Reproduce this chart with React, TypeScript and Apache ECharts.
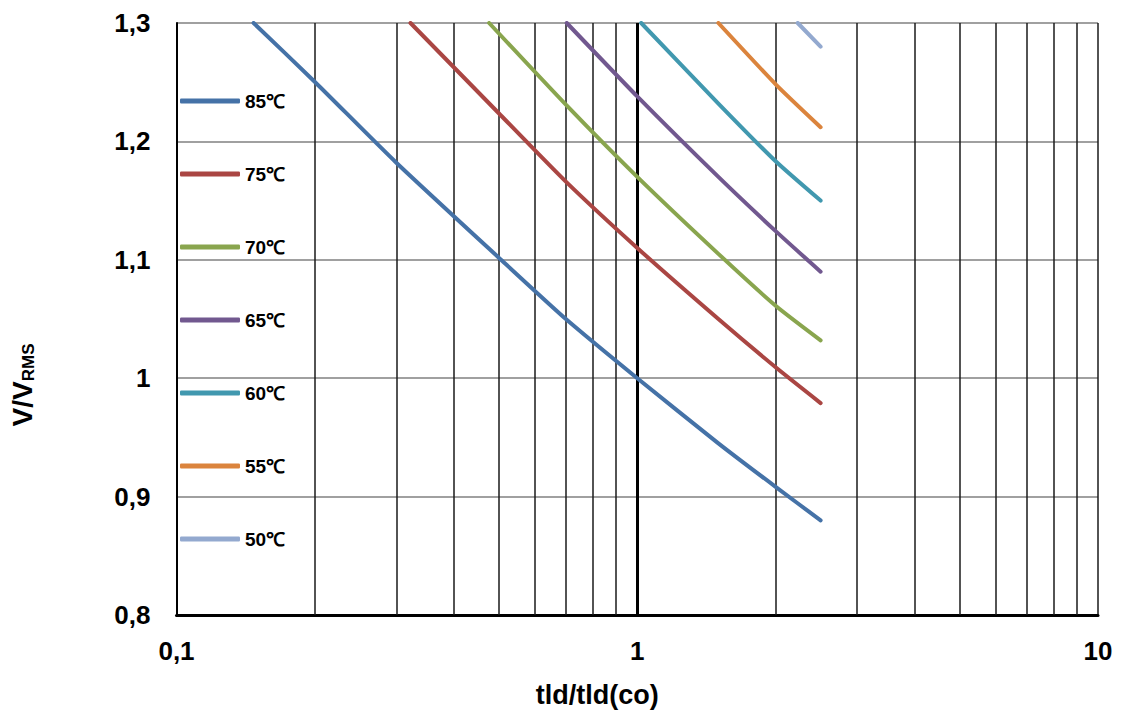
import React, { useEffect, useRef } from "react";
import * as echarts from "echarts";

const seriesNames = ["85℃", "75℃", "70℃", "65℃", "60℃", "55℃", "50℃"];
const seriesColors = ["#4572A7", "#AA4643", "#89A54E", "#71588F", "#4198AF", "#DB843D", "#93A9CF"];

const curve85: [number, number][] = [[0.147, 1.3], [0.2, 1.25], [0.3, 1.182], [0.5, 1.102], [0.7, 1.05], [1, 1.0], [1.5, 0.945], [2, 0.908], [2.5, 0.88]];
const curve75: [number, number][] = [[0.322, 1.3], [0.5, 1.224], [0.7, 1.166], [1, 1.11], [1.5, 1.05], [2, 1.009], [2.5, 0.979]];
const curve70: [number, number][] = [[0.477, 1.3], [0.7, 1.231], [1, 1.17], [1.5, 1.105], [2, 1.061], [2.5, 1.032]];
const curve65: [number, number][] = [[0.703, 1.3], [1, 1.238], [1.5, 1.17], [2, 1.124], [2.5, 1.09]];
const curve60: [number, number][] = [[1.02, 1.3], [1.5, 1.232], [2, 1.183], [2.5, 1.15]];
const curve55: [number, number][] = [[1.5, 1.3], [2, 1.248], [2.5, 1.212]];
const curve50: [number, number][] = [[2.23, 1.3], [2.5, 1.28]];

const curves = [curve85, curve75, curve70, curve65, curve60, curve55, curve50];

const minorGridX = [0.2, 0.3, 0.4, 0.5, 0.6, 0.7, 0.8, 0.9, 2, 3, 4, 5, 6, 7, 8, 9];

const FONT = "'Liberation Sans', Arial, sans-serif";

function fmt(v: number): string {
  const r = Math.round(v * 10) / 10;
  return String(r).replace(".", ",");
}

export default function App() {
  const ref = useRef<HTMLDivElement>(null);
  useEffect(() => {
    if (!ref.current) return;
    const chart = echarts.init(ref.current, undefined, { renderer: "svg" });
    const series: any[] = curves.map((c, i) => ({
      name: seriesNames[i],
      type: "line",
      data: c,
      smooth: 0.2,
      showSymbol: false,
      symbol: "none",
      lineStyle: { color: seriesColors[i], width: 4, cap: "round", join: "round" },
      itemStyle: { color: seriesColors[i] },
      z: 5,
    }));
    series.push({
      name: "grid",
      type: "line",
      data: [],
      silent: true,
      markLine: {
        silent: true,
        symbol: "none",
        label: { show: false },
        animation: false,
        lineStyle: { color: "#1a1a1a", width: 1.5, type: "solid" },
        data: [
          ...minorGridX.map((x) => ({ xAxis: x })),
          { xAxis: 1, lineStyle: { color: "#000", width: 3, type: "solid" } },
        ],
      },
      z: 2,
    });
    chart.setOption({
      animation: false,
      backgroundColor: "#fff",
      grid: { left: 172, right: 23, top: 23, bottom: 97, containLabel: false },
      legend: {
        data: seriesNames,
        orient: "vertical",
        left: 180,
        top: 91,
        padding: 0,
        icon: "roundRect",
        itemWidth: 60,
        itemHeight: 5,
        itemGap: 53,
        selectedMode: false,
        textStyle: { fontFamily: FONT, fontWeight: "bold", fontSize: 19, color: "#000", lineHeight: 20 },
      },
      xAxis: {
        type: "log",
        logBase: 10,
        min: 0.1,
        max: 10,
        name: "tld/tld(co)",
        nameLocation: "middle",
        nameGap: 66,
        nameTextStyle: { fontFamily: FONT, fontWeight: "bold", fontSize: 27, color: "#000", padding: [0, 80, 0, 0] },
        axisLine: { show: true, lineStyle: { color: "#000", width: 3 } },
        axisTick: { show: false },
        axisLabel: {
          fontFamily: FONT,
          fontWeight: "bold",
          fontSize: 26,
          color: "#000",
          margin: 23,
          formatter: (v: number) => fmt(v),
        },
        splitLine: { show: true, lineStyle: { color: "#1a1a1a", width: 1.5 } },
      },
      yAxis: {
        type: "value",
        min: 0.8,
        max: 1.3,
        interval: 0.1,
        name: "{a|V/V}{b|RMS}",
        nameLocation: "middle",
        nameRotate: 90,
        nameGap: 138,
        nameTextStyle: {
          padding: [0, 132, 0, 0],
          rich: {
            a: { fontFamily: FONT, fontWeight: "bold", fontSize: 28, color: "#000", lineHeight: 32 },
            b: { fontFamily: FONT, fontWeight: "bold", fontSize: 17, color: "#000", lineHeight: 32, padding: [12, 0, 0, 0] },
          },
        },
        axisLine: { show: true, lineStyle: { color: "#000", width: 2 } },
        axisTick: { show: false },
        axisLabel: {
          fontFamily: FONT,
          fontWeight: "bold",
          fontSize: 26,
          color: "#000",
          margin: 26,
          formatter: (v: number) => fmt(v),
        },
        splitLine: { show: true, lineStyle: { color: "#808080", width: 1.5 } },
      },
      series,
    });
    return () => chart.dispose();
  }, []);
  return <div ref={ref} style={{ position: "fixed", left: 0, top: 0, width: 1121, height: 713 }} />;
}
